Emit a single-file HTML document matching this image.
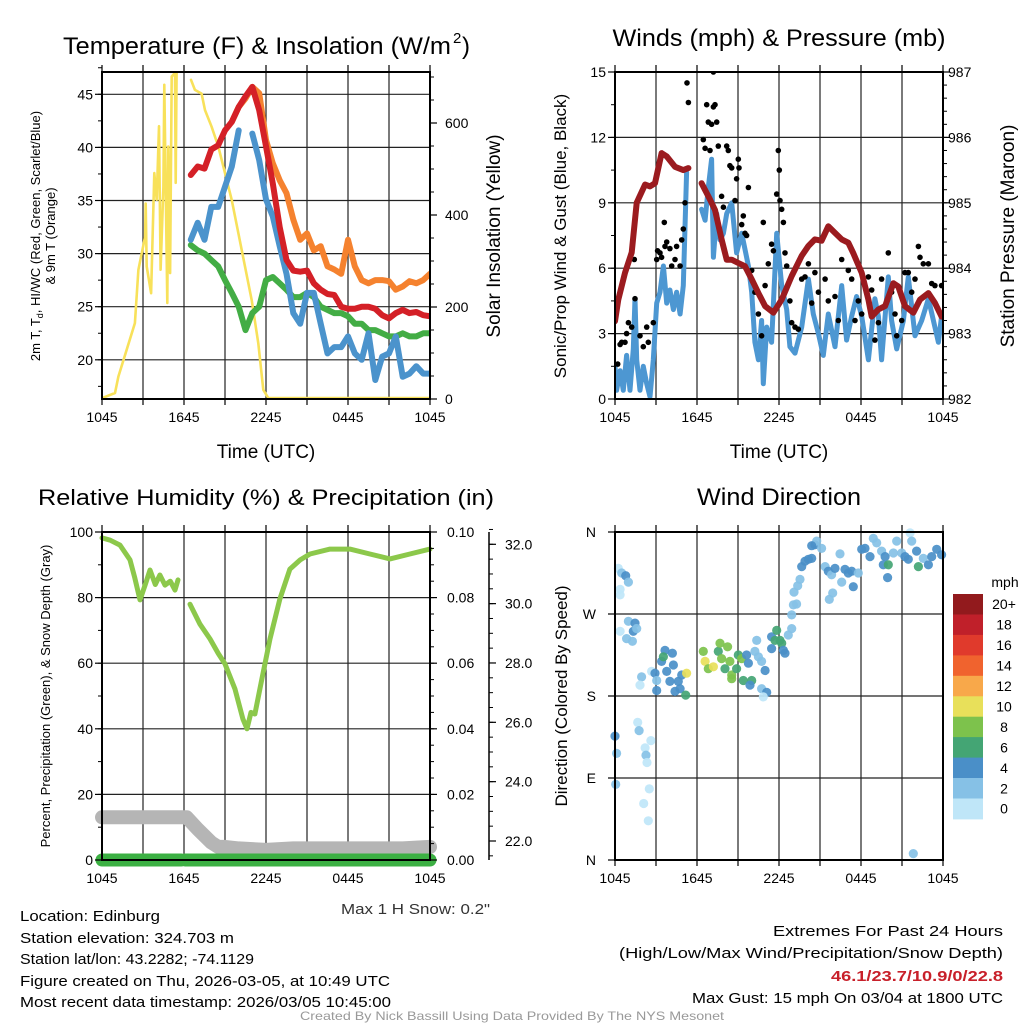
<!DOCTYPE html>
<html><head><meta charset="utf-8"><title>Mesonet Station Meteogram</title>
<style>
html,body{margin:0;padding:0;background:#fff;}
svg{display:block;font-family:"Liberation Sans",Arial,sans-serif;}
</style></head>
<body>
<svg id="fig" width="1024" height="1024" viewBox="0 0 1024 1024" xmlns="http://www.w3.org/2000/svg">
<defs>
<clipPath id="c1"><rect x="102" y="72" width="328" height="327"/></clipPath>
<clipPath id="c2"><rect x="615" y="72" width="328" height="327"/></clipPath>
<clipPath id="c3"><rect x="95" y="532" width="342" height="340"/></clipPath>
<clipPath id="c4"><rect x="609" y="526" width="340" height="340"/></clipPath>
</defs>
<g id="p1"></g>
<g id="p2"></g>
<g id="p3"></g>
<g id="p4"></g>
<g id="txt" font-size="15" fill="#000">
<text x="20" y="921" textLength="140" lengthAdjust="spacingAndGlyphs">Location: Edinburg</text>
<text x="20" y="943" textLength="214" lengthAdjust="spacingAndGlyphs">Station elevation: 324.703 m</text>
<text x="20" y="964" textLength="234" lengthAdjust="spacingAndGlyphs">Station lat/lon: 43.2282; -74.1129</text>
<text x="20" y="986" textLength="370" lengthAdjust="spacingAndGlyphs">Figure created on Thu, 2026-03-05, at 10:49 UTC</text>
<text x="20" y="1007" textLength="371" lengthAdjust="spacingAndGlyphs">Most recent data timestamp: 2026/03/05 10:45:00</text>
<text x="490" y="914" text-anchor="end" fill="#333" textLength="149" lengthAdjust="spacingAndGlyphs">Max 1 H Snow: 0.2"</text>
<text x="1003" y="936" text-anchor="end" textLength="230" lengthAdjust="spacingAndGlyphs">Extremes For Past 24 Hours</text>
<text x="1003" y="958" text-anchor="end" textLength="384" lengthAdjust="spacingAndGlyphs">(High/Low/Max Wind/Precipitation/Snow Depth)</text>
<text x="1003" y="981" text-anchor="end" fill="#c8202a" font-weight="bold" textLength="172" lengthAdjust="spacingAndGlyphs">46.1/23.7/10.9/0/22.8</text>
<text x="1003" y="1003" text-anchor="end" textLength="311" lengthAdjust="spacingAndGlyphs">Max Gust: 15 mph On 03/04 at 1800 UTC</text>
<text x="512" y="1020" text-anchor="middle" font-size="12" fill="#999" textLength="424" lengthAdjust="spacingAndGlyphs">Created By Nick Bassill Using Data Provided By The NYS Mesonet</text>
</g>
</svg>
<script>
// ---------- Temperature panel data (hours since 1045 UTC) ----------
const tempHours = [6.5,7,7.5,8,8.5,9,9.5,10,10.5,11,11.5,12,12.5,13,13.5,14,14.5,15,15.5,16,16.5,17,17.5,18,18.5,19,19.5,20,20.5,21,21.5,22,22.5,23,23.5,24];
const temp2m = [37.4,38.2,38.0,39.8,40.2,41.6,42.4,43.8,44.8,45.7,43.5,40.1,36.6,32.5,29.4,28.4,28.3,28.4,27.2,26.6,26.2,26.1,25.0,24.8,24.8,25.0,25.0,24.8,24.2,23.9,24.4,24.7,24.4,24.5,24.2,24.1];
const chillTemp = [31.3,32.9,31.3,34.4,34.4,36.3,38.2,41.6,null,41.3,38.8,35.1,33.5,30.7,28.1,24.4,23.4,26.3,26.3,23.4,20.6,21.2,21.2,22.2,20.6,20.0,22.5,18.1,20.3,20.6,22.2,18.4,18.7,19.4,18.7,18.7];
const dewTemp = [30.8,30.3,30.0,29.4,28.8,27.5,26.3,25.0,22.8,24.4,25.0,27.5,27.8,27.2,26.6,25.9,25.9,26.3,25.9,25.0,24.7,24.4,24.4,24.1,23.4,23.4,22.8,22.8,22.5,22.2,22.2,22.5,22.2,22.2,22.5,22.5];
const temp9mHours = [9.5,10,10.5,11,11.5,12,12.5,13,13.5,14,14.5,15,15.5,16,16.5,17,17.5,18,18.5,19,19.5,20,20.5,21,21.5,22,22.5,23,23.5,24];
const temp9m = [42.4,43.8,44.6,45.7,45.1,40.7,38.5,36.9,35.7,33.2,31.3,31.9,30.3,30.7,28.8,28.5,28.1,31.3,28.8,27.5,27.2,27.5,27.5,27.4,26.6,26.9,27.4,27.2,27.5,28.1];
const solarHours = [0,0.95,1.2,2.41,2.66,3.15,3.2,3.27,3.59,3.83,4.0,4.17,4.29,4.49,4.56,4.78,4.85,4.98,5.10,5.34,5.39,5.46,5.9,6.51,6.80,7.29,7.54,8.02,8.51,9.0,9.49,9.98,10.46,10.95,11.44,11.80,12.17,24];
const solarVals = [2,13,49,165,281,353,425,288,230,491,433,593,281,462,683,209,549,274,701,709,470,709,null,694,672,664,628,592,549,491,433,360,288,215,121,20,2,2];
const tempTicks = [20,25,30,35,40,45];
const solarTicks = [0,200,400,600];
const timeLabels = ['1045','1645','2245','0445','1045'];

// ---------- Wind panel data ----------
const windHours = [0,0.12,0.37,0.61,0.85,1.1,1.34,1.46,1.59,1.83,2.07,2.32,2.56,2.8,3.05,3.29,3.54,3.78,4.02,4.27,4.51,4.76,5.0,5.24,5.6,6.34,6.59,6.83,7.07,7.2,7.44,7.68,7.93,8.17,8.54,8.9,9.27,9.76,10.0,10.24,10.49,10.73,10.85,11.1,11.46,11.83,12.2,12.56,12.8,13.17,13.66,14.15,14.51,14.88,15.24,15.61,16.1,16.59,16.95,17.32,17.68,18.05,18.54,19.02,19.27,19.51,20.0,20.24,20.61,21.1,21.46,21.95,22.44,22.93,23.41,23.66,23.9];
const windVals = [1.5,0.4,1.3,0.4,2.0,0.4,2.3,4.6,1.8,0.4,1.5,0.7,0.1,1.8,4.4,4.9,6.1,4.4,5.0,4.1,4.9,3.9,5.2,10.4,null,8.7,8.2,9.7,11.0,6.5,8.5,7.3,7.6,8.5,9.0,6.7,7.6,6.1,4.9,2.6,1.8,3.6,0.7,3.3,2.6,7.6,5.2,4.1,2.4,2.1,3.3,5.5,3.9,3.0,2.0,3.9,2.4,5.2,2.7,3.8,4.7,3.8,1.8,4.6,3.8,1.8,5.6,3.6,2.3,3.6,5.6,2.9,3.6,4.6,3.3,2.6,3.8];
const gustHours = [0,0.2,0.37,0.49,0.73,0.85,0.98,1.22,1.41,1.46,1.83,2.07,2.32,2.44,2.8,3.05,3.12,3.29,3.41,3.61,3.66,3.78,4.02,4.15,4.39,4.51,4.76,4.88,5.0,5.12,5.27,5.37,6.46,6.59,6.71,6.83,6.95,7.07,7.2,7.32,7.44,7.56,7.8,7.93,8.17,8.29,8.41,8.54,8.78,8.9,9.02,9.07,9.27,9.39,9.51,9.63,9.76,10.0,10.24,10.49,10.73,10.85,10.98,11.22,11.46,11.59,11.83,11.95,12.02,12.07,12.2,12.32,12.44,12.56,12.8,12.93,13.17,13.41,13.66,13.9,14.15,14.39,14.63,14.88,15.37,15.61,16.1,16.34,16.59,17.07,17.32,17.56,17.8,18.05,18.41,18.54,18.78,19.02,19.27,19.51,20.0,20.24,20.49,20.61,20.98,21.22,21.46,21.71,21.95,22.2,22.32,22.56,22.93,23.17,23.41,23.9,7.2];
const gustVals = [3.8,1.6,2.5,2.6,2.6,3.0,3.5,3.3,6.4,4.6,2.9,2.4,3.3,2.6,3.5,6.4,6.8,6.7,6.5,8.1,7.0,7.2,6.9,6.1,6.4,7.0,6.1,7.3,7.8,9.0,14.5,13.6,11.9,11.5,13.5,12.7,11.4,12.6,13.4,13.5,12.7,11.6,9.3,8.8,11.6,11.4,10.7,10.6,9.1,10.1,11.0,10.6,8.0,8.4,7.6,7.5,9.7,5.9,4.9,3.9,2.9,8.1,5.2,6.2,7.1,6.8,9.4,11.4,10.5,9.1,8.7,8.1,6.7,6.1,4.5,3.5,3.3,3.2,5.5,5.6,6.2,4.4,5.8,4.9,5.5,4.5,4.7,3.6,6.4,5.9,5.5,3.6,4.5,3.9,4.9,5.6,5.0,2.7,3.5,5.5,6.7,4.9,3.9,2.9,3.6,5.8,5.8,4.9,5.5,7.0,6.5,6.2,6.2,5.3,5.2,5.2,15.0];
const presHours = [0,0.24,0.73,1.22,1.59,2.2,2.56,2.93,3.41,3.78,4.39,5.0,5.37,5.8,6.34,6.95,7.32,7.8,8.17,8.54,9.02,9.51,10.0,10.49,10.98,11.59,12.2,12.93,13.66,14.15,14.63,15.12,15.61,16.1,16.59,17.07,17.44,18.05,18.54,18.78,19.27,19.76,20.37,20.73,21.22,21.83,22.32,22.93,23.41,23.9];
const presVals = [983.19,983.52,983.93,984.24,985.0,985.28,985.25,985.30,985.76,985.71,985.55,985.50,985.53,null,985.30,985.05,984.89,984.44,984.13,984.13,984.08,984.03,983.83,983.62,983.42,983.32,983.52,983.88,984.19,984.34,984.44,984.42,984.64,984.54,984.44,984.39,984.23,983.93,983.52,983.26,983.37,983.42,983.77,983.72,983.42,983.32,983.52,983.62,983.47,983.26];
const windTicks = [0,3,6,9,12,15];
const presTicks = [982,983,984,985,986,987];

// ---------- Humidity panel data ----------
const rhHours = [0,0.6,1.32,2.05,2.4,2.78,3.15,3.51,3.9,4.24,4.61,5.0,5.34,5.56,5.9,6.44,7.17,7.9,8.5,9.0,9.73,10.31,10.61,10.9,11.19,11.7,12.29,13.02,13.75,14.5,15.22,16.68,18.14,19.6,21.07,22.53,24];
const rhVals = [98.2,97.5,96.0,91.5,86,79.3,83.8,88.4,84,86.9,83.8,85,82.3,85.4,null,78.0,71.9,67.4,63,59.8,52.1,43.0,40.0,45,44.5,55.2,67.4,79.6,88.7,91.5,93.3,94.8,94.8,93.3,91.8,93.3,94.8];
const snowHours = [0,1,2,3,4,5,6,6.2,7,8,8.5,9,10,12,14,16,18,20,22,24];
const snowVals = [22.8,22.8,22.8,22.8,22.8,22.8,22.8,22.8,22.4,21.95,21.8,21.8,21.75,21.7,21.75,21.75,21.75,21.75,21.75,21.8];
const precipHours = [0,5.8,null,6.1,24];
const precipVals = [0,0,null,0,0];
const rhTicks = [0,20,40,60,80,100];
const precipTicks = [0,0.02,0.04,0.06,0.08,0.10];
const snowTicks = [22,24,26,28,30,32];

// ---------- Wind direction panel data ----------
const dirHours = [0.24,0.49,0.78,0.98,0.37,0.37, 0.98,1.46,1.34,0.37,0.85,1.27,1.59, 0,0.12,0.05,1.66,1.76,2.2,2.27,2.34,2.63,2.51,2.1,2.44, 1.95,1.83,2.68,2.93,3.05,3.05,3.66,3.41,3.54,3.78,4.2,4.27,4.02,4.39,4.63,4.88,4.76,5.24,5.17,
6.46,6.59,6.83,7.2,7.56,7.68,7.8,8.24,8.41,8.05,8.54,8.54,9.02,9.27,8.9,9.39,9.63,9.76,10.0,9.88,10.37,10.49,10.73,10.24,10.98,10.73,11.1,10.85,11.46,11.83,12.07,11.71,12.2,12.32,11.46,12.44,12.68,12.93,12.93,13.05,13.29,13.1,13.37,13.54,13.66,13.9,14.15,14.39,14.63,14.76,14.39,15.12,15.37,15.61,15.85,16.1,16.46,16.83,17.07,17.32,16.59,17.44,17.8,15.93,15.68,18.05,18.29,18.66,18.9,19.15,19.51,19.76,19.63,20.0,19.95,20.37,20.61,20.98,21.22,21.46,21.59,21.71,22.07,22.2,22.56,22.93,23.17,23.54,23.9,21.83];
const dirVals = [320,315,312,305,297,291, 262,260,251,251,243,240,254, 136,117,83,151,142,123,115,107,131,78,62,43, 201,192,207,205,197,186,230,218,223,207,227,214,196,185,196,203,188,205,181,
229,218,210,212,229,238,221,234,218,210,203,199,225,221,210,197,225,216,197,192,241,223,218,229,208,188,184,179,245,252,241,241,238,230,232,227,247,254,269,280,281,294,301,308,322,328,330,331,346,350,345,342,322,317,313,320,336,319,315,317,305,300,315,293,286,341,342,333,353,348,339,333,324,324,310,337,350,337,333,330,359,350,339,322,331,324,333,341,335,7];
const dirSpeeds = [1,3,5,3,1,1, 3,5,5,1,3,3,3, 5,3,3,1,3,1,3,1,1,1,1,1, 3,1,1,5,3,5,5,5,7,5,5,5,5,5,5,5,5,11,7,
9,11,9,11,7,9,9,9,9,7,9,9,7,9,7,7,5,5,7,5,3,3,3,3,5,3,5,1,5,7,7,7,7,5,5,5,3,3,3,3,3,3,3,3,5,5,5,5,5,3,5,3,3,5,3,5,3,5,5,5,3,5,3,3,3,5,5,5,3,3,3,5,5,7,5,3,3,3,5,5,1,3,5,7,3,5,5,5,5,3];
const speedLabels = ['0','2','4','6','8','10','12','14','16','18','20+'];
const speedColors = ['#bfe6f8','#86c1e6','#4a8fc8','#44a574','#7dc24c','#e8e05a','#f8a84a','#f0632e','#e03a2c','#c0202a','#921a1d'];
const dirLabels = ['N','E','S','W','N'];
const dirTicks = [0,90,180,270,360];

// ---------- helpers ----------
const NS = 'http://www.w3.org/2000/svg';
function mk(parent, tag, attrs, text){
  const e = document.createElementNS(NS, tag);
  for (const k in attrs) e.setAttribute(k, attrs[k]);
  if (text !== undefined) e.textContent = text;
  parent.appendChild(e);
  return e;
}
function pathFrom(xs, ys, sx, sy){
  let d = '', pen = false;
  for (let i = 0; i < xs.length; i++){
    if (xs[i] === null || ys[i] === null){ pen = false; continue; }
    d += (pen ? 'L' : 'M') + sx(xs[i]).toFixed(1) + ' ' + sy(ys[i]).toFixed(1);
    pen = true;
  }
  return d;
}
function drawLine(g, xs, ys, sx, sy, color, w, name){
  const p = mk(g, 'path', {d: pathFrom(xs, ys, sx, sy), fill: 'none', stroke: color, 'stroke-width': w, 'stroke-linejoin': 'round', 'stroke-linecap': 'round'});
  
  
  return p;
}
function frameAndTime(g, L, T, W, H, sx){
  for (let h = 0; h <= 24; h += 3){
    const x = sx(h);
    const gl = mk(g, 'line', {x1: x, x2: x, y1: T, y2: T + H, stroke: '#222', 'stroke-width': 1.2});
    
    
    mk(g, 'line', {x1: x, x2: x, y1: T + H, y2: T + H + 6, stroke: '#000', 'stroke-width': 1.2});
    mk(g, 'line', {x1: x, x2: x, y1: T - 7, y2: T, stroke: '#000', 'stroke-width': 1.2});
  }
  for (let i = 0; i < timeLabels.length; i++){
    const t = mk(g, 'text', {x: sx(i * 6), y: T + H + 23, 'text-anchor': 'middle', 'font-size': 14}, timeLabels[i]);
    
    
  }
}
function hGrid(g, L, W, ys){
  ys.forEach(y => {
    const l = mk(g, 'line', {x1: L, x2: L + W, y1: y, y2: y, stroke: '#222', 'stroke-width': 1.2});
    
    
  });
}
function frame(g, L, T, W, H){
  const r = mk(g, 'rect', {x: L, y: T, width: W, height: H, fill: 'none', stroke: '#000', 'stroke-width': 2});
  
  
}
function yAxis(g, x, side, majors, minors, sy, fmt, labelOffset, fs){
  const dir = side === 'left' ? -1 : 1;
  minors.forEach(v => mk(g, 'line', {x1: x, x2: x + dir * 4, y1: sy(v), y2: sy(v), stroke: '#000', 'stroke-width': 1}));
  majors.forEach(v => {
    mk(g, 'line', {x1: x, x2: x + dir * 7, y1: sy(v), y2: sy(v), stroke: '#000', 'stroke-width': 1.2});
    const t = mk(g, 'text', {x: x + dir * labelOffset, y: sy(v) + 5, 'text-anchor': side === 'left' ? 'end' : 'start', 'font-size': fs || 14}, fmt(v));
    
    
  });
}
function rng(a, b, s){ const r = []; for (let v = a; v <= b + 1e-9; v += s) r.push(+v.toFixed(4)); return r; }
function title(g, x, y, txt, name, fs, len){
  const a = {x: x, y: y, 'text-anchor': 'middle', 'font-size': fs || 22};
  if (len){ a.textLength = len; a.lengthAdjust = 'spacingAndGlyphs'; }
  const t = mk(g, 'text', a, txt);
  
  
  return t;
}
function vLabel(g, x, y, txt, name, fs){
  const t = mk(g, 'text', {x: 0, y: 0, transform: 'translate(' + x + ',' + y + ') rotate(-90)', 'text-anchor': 'middle', 'font-size': fs}, txt);
  
  
  return t;
}

// ---------- Panel 1 ----------
(function(){
  const g = document.getElementById('p1');
  const L = 102, T = 72, W = 328, H = 327;
  const sx = h => L + h * W / 24;
  const sy = t => 94.3 + (45 - t) * 10.62;
  const ss = w => 399 - w * 0.46;
  frameAndTime(g, L, T, W, H, sx);
  hGrid(g, L, W, tempTicks.map(sy));
  const c = mk(g, 'g', {'clip-path': 'url(#c1)'});
  drawLine(c, solarHours, solarVals, sx, ss, '#f8e15a', 2.6, 'solar-insolation-line');
  drawLine(c, tempHours, dewTemp, sx, sy, '#43ad45', 6, 'dewpoint-line');
  drawLine(c, temp9mHours, temp9m, sx, sy, '#f5822f', 6, 'temp-9m-line');
  drawLine(c, tempHours, chillTemp, sx, sy, '#4b93cc', 6, 'wind-chill-line');
  drawLine(c, tempHours, temp2m, sx, sy, '#d42027', 6, 'temp-2m-line');
  frame(g, L, T, W, H);
  yAxis(g, L, 'left', tempTicks, rng(17.5, 47.5, 2.5), sy, v => String(v), 9, 14);
  yAxis(g, L + W, 'right', solarTicks, rng(0, 700, 50), ss, v => String(v), 15, 14);
  const t = mk(g, 'text', {x: 63, y: 54, 'font-size': 24, textLength: 388, lengthAdjust: 'spacingAndGlyphs'}, 'Temperature (F) & Insolation (W/m');
  
  
  const sp = mk(g, 'text', {x: 453, y: 43, 'font-size': 15}, '2');
  
  
  const t2 = mk(g, 'text', {x: 462, y: 54, 'font-size': 24}, ')');
  
  
  title(g, 266, 458, 'Time (UTC)', 'x-axis-title', 19);
  const yl = mk(g, 'text', {transform: 'translate(40,236) rotate(-90)', 'text-anchor': 'middle', 'font-size': 13});
  
  
  mk(yl, 'tspan', {x: 0, y: 0}, '2m T, T');
  mk(yl, 'tspan', {'font-size': 9, dy: 3}, 'd');
  mk(yl, 'tspan', {dy: -3}, ', HI/WC (Red, Green, Scarlet/Blue)');
  mk(yl, 'tspan', {x: 0, dy: 15}, '& 9m T (Orange)');
  vLabel(g, 500, 236, 'Solar Insolation (Yellow)', 'solar-y-axis-title', 19);
})();

// ---------- Panel 2 ----------
(function(){
  const g = document.getElementById('p2');
  const L = 615, T = 72, W = 328, H = 327;
  const sx = h => L + h * W / 24;
  const sy = v => 399 - v * 21.8;
  const sp = p => 399 - (p - 982) * 65.4;
  frameAndTime(g, L, T, W, H, sx);
  hGrid(g, L, W, [3,6,9,12].map(sy));
  const c = mk(g, 'g', {'clip-path': 'url(#c2)'});
  drawLine(c, windHours, windVals, sx, sy, '#4d97d2', 5, 'sonic-wind-line');
  for (let i = 0; i < gustHours.length; i++){
    const d = mk(c, 'circle', {cx: sx(gustHours[i]).toFixed(1), cy: sy(gustVals[i]).toFixed(1), r: 2.8, fill: '#000'});
    
    
  }
  drawLine(c, presHours, presVals, sx, sp, '#9b1b1f', 6, 'pressure-line');
  frame(g, L, T, W, H);
  yAxis(g, L, 'left', windTicks, rng(0, 15, 1.5), sy, v => String(v), 9, 14);
  yAxis(g, L + W, 'right', presTicks, rng(982, 987, 0.2), sp, v => String(v), 5, 14);
  title(g, 779, 46, 'Winds (mph) & Pressure (mb)', 'wind-title', 24, 333);
  title(g, 779, 458, 'Time (UTC)', 'x-axis-title', 19);
  vLabel(g, 566, 236, 'Sonic/Prop Wind & Gust (Blue, Black)', 'wind-y-axis-title', 17);
  vLabel(g, 1014, 236, 'Station Pressure (Maroon)', 'pressure-y-axis-title', 19);
})();

// ---------- Panel 3 ----------
(function(){
  const g = document.getElementById('p3');
  const L = 102, T = 532, W = 328, H = 328;
  const sx = h => L + h * W / 24;
  const sy = v => 860 - v * 3.28;
  const spr = v => 860 - v * 3280;
  const ssn = v => 841 - (v - 22) * 29.67;
  frameAndTime(g, L, T, W, H, sx);
  hGrid(g, L, W, [20,40,60,80].map(sy));
  const c = mk(g, 'g', {'clip-path': 'url(#c3)'});
  drawLine(c, rhHours, rhVals, sx, sy, '#8cc84b', 5, 'relative-humidity-line');
  drawLine(c, snowHours, snowVals, sx, ssn, '#b5b5b5', 14, 'snow-depth-line');
  drawLine(c, precipHours, precipVals, sx, spr, '#3cb043', 13, 'precipitation-line');
  frame(g, L, T, W, H);
  yAxis(g, L, 'left', rhTicks, rng(0, 100, 10), sy, v => String(v), 9, 14);
  yAxis(g, L + W, 'right', precipTicks, rng(0, 0.1, 0.005), spr, v => v.toFixed(2), 17, 14);
  const ax = mk(g, 'line', {x1: 489, x2: 489, y1: 532, y2: 860, stroke: '#000', 'stroke-width': 1.5});
  
  
  yAxis(g, 489, 'right', snowTicks, rng(21.5, 32.5, 0.5), ssn, v => v.toFixed(1), 16, 14);
  title(g, 266, 505, 'Relative Humidity (%) & Precipitation (in)', 'humidity-title', 22, 456);
  vLabel(g, 50, 696, 'Percent, Precipitation (Green), & Snow Depth (Gray)', 'humidity-y-axis-title', 13);
})();

// ---------- Panel 4 ----------
(function(){
  const g = document.getElementById('p4');
  const L = 615, T = 532, W = 328, H = 328;
  const sx = h => L + h * W / 24;
  const sy = d => 860 - d * H / 360;
  frameAndTime(g, L, T, W, H, sx);
  hGrid(g, L, W, [90,180,270].map(sy));
  const c = mk(g, 'g', {'clip-path': 'url(#c4)'});
  const binOf = s => Math.min(10, Math.floor(s / 2));
  for (let i = 0; i < dirHours.length; i++){
    const d = mk(c, 'circle', {cx: sx(dirHours[i]).toFixed(1), cy: sy(dirVals[i]).toFixed(1), r: 4.6, fill: speedColors[binOf(dirSpeeds[i])], 'fill-opacity': 0.92});
    
    
  }
  frame(g, L, T, W, H);
  dirTicks.forEach((v, i) => {
    mk(g, 'line', {x1: L, x2: L - 7, y1: sy(v), y2: sy(v), stroke: '#000', 'stroke-width': 1.2});
    const t = mk(g, 'text', {x: 596, y: sy(v) + 5, 'text-anchor': 'end', 'font-size': 14}, dirLabels[i]);
    
    
  });
  title(g, 779, 505, 'Wind Direction', 'wind-direction-title', 24, 164);
  vLabel(g, 567, 696, 'Direction (Colored By Speed)', 'direction-y-axis-title', 17);
  const cb = mk(g, 'g', {});
  
  
  const bh = 20.45, top = 594;
  const u = mk(cb, 'text', {x: 1005, y: 587, 'text-anchor': 'middle', 'font-size': 14}, 'mph');
  
  
  for (let i = 0; i < speedColors.length; i++){
    const k = speedColors.length - 1 - i;
    const r = mk(cb, 'rect', {x: 953, y: (top + i * bh).toFixed(1), width: 30, height: (bh + 0.5).toFixed(1), fill: speedColors[k]});
    
    
    const t = mk(cb, 'text', {x: 1004, y: (top + i * bh + bh / 2 + 5).toFixed(1), 'text-anchor': 'middle', 'font-size': 14}, speedLabels[k]);
    
    
  }
})();
</script>
</body></html>
